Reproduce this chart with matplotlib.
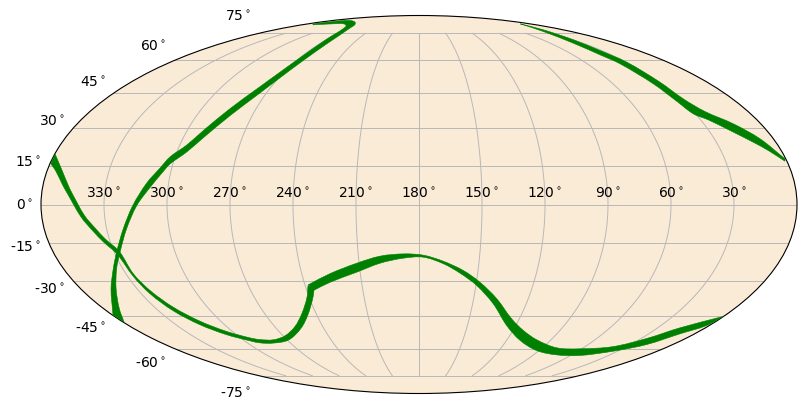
import numpy as np
import matplotlib
matplotlib.use("Agg")
import matplotlib.pyplot as plt
from matplotlib.path import Path
from matplotlib.patches import PathPatch

ra_ticks = [330, 300, 270, 240, 210, 180, 150, 120, 90, 60, 30]
dec_ticks = [-75, -60, -45, -30, -15, 0, 15, 30, 45, 60, 75]

a1_ra = [15.9,24.9,30.2,31.3,29.7,29.5,28.2,23.6,14.5,6.8,0.4]
a1_dec = [81.5,77.2,71.0,65.1,59.1,49.7,42.3,36.9,31.8,25.7,17.7]
a2_ra = [15.9,33.0,39.0,38.8,36.6,35.0,33.5,31.1,25.9,18.0,11.4,6.4,1.0]
a2_dec = [81.5,76.1,69.1,62.8,58.3,48.9,41.3,35.9,33.4,28.4,24.3,21.0,16.8]
b1_ra = [351.7,343.3,323.8,287.4,271.9,263.4,265.1,269.2,274.6,282.0,289.8,295.2,301.4,303.7,308.6,314.4,320.4,327.1,333.1,341.2,351.1,359.5]
b1_dec = [81.5,83.3,84.2,82.0,78.5,68.7,60.0,51.7,43.8,35.1,26.1,20.4,15.7,12.8,6.6,-0.4,-9.4,-18.5,-25.1,-33.3,-41.7,-47.6]
b2_ra = [342.5,319.2,300.4,283.4,270.8,269.6,272.7,277.6,284.4,291.6,296.5,302.5,305.7,310.5,316.3,322.0,328.8,334.8,343.9,359.6]
b2_dec = [80.7,81.5,81.4,79.5,71.4,62.5,54.3,46.6,38.1,29.0,23.2,18.5,14.1,8.3,-0.4,-9.4,-18.5,-25.1,-33.3,-44.4]
c1_ra = [0.1,16.0,25.9,39.8,61.3,79.4,99.7,113.4,124.6,137.3,148.1,157.5,167.9,177.9,187.7,199.3,211.2,225.6,238.2]
c1_dec = [-45.0,-50.1,-54.9,-59.0,-60.1,-59.6,-55.7,-51.3,-46.1,-37.4,-30.6,-25.8,-22.1,-19.7,-19.2,-20.1,-22.9,-27.1,-31.6]
c2_ra = [0.1,1.7,9.6,18.6,33.3,52.5,71.8,91.7,110.7,125.6,138.4,149.6,159.0,167.8,177.9,187.8,199.5,211.8,226.5,236.5]
c2_dec = [-45.0,-49.1,-52.9,-58.0,-61.3,-63.5,-63.2,-61.0,-56.0,-49.1,-39.6,-31.9,-26.9,-23.1,-20.5,-20.9,-22.9,-26.5,-30.6,-34.0]
d1_ra = [238.5,241.3,248.2,257.3,268.7,279.4,288.2,293.5,303.6,312.6,319.4,323.8,326.2,327.3,331.9,335.3,339.6,345.3,347.8,352.8,359.9]
d1_dec = [-31.9,-36.9,-43.7,-49.5,-53.8,-55.7,-55.6,-54.8,-51.8,-47.1,-41.0,-34.0,-27.1,-18.3,-13.4,-9.3,-4.2,4.1,7.3,13.2,19.7]
d2_ra = [236.0,238.0,245.0,254.5,269.1,282.1,291.1,296.2,306.4,315.2,321.5,325.3,327.1,329.0,333.3,336.8,341.3,347.6,350.4,356.0,359.6]
d2_dec = [-33.6,-36.9,-44.2,-50.4,-55.8,-57.3,-57.2,-56.2,-53.3,-48.7,-42.6,-35.3,-28.2,-19.3,-14.5,-10.3,-4.8,4.1,7.3,13.2,15.8]

bands = [(a1_ra, a1_dec, a2_ra, a2_dec), (b1_ra, b1_dec, b2_ra, b2_dec),
         (c1_ra, c1_dec, c2_ra, c2_dec), (d1_ra, d1_dec, d2_ra, d2_dec)]

def to_lon(ra):
    return np.radians(180.0 - np.asarray(ra))

fig = plt.figure(figsize=(8.06, 4.10), dpi=100)
ax = fig.add_axes([41/806, 15.5/410, 756/806, 378/410], projection="mollweide")
ax.set_facecolor("antiquewhite")
ax.grid(True, color="#b8b8b8", lw=0.7)

def curve(p):
    """Bezier segments through the read points (projected space)."""
    tang = np.zeros_like(p)
    tang[1:-1] = p[2:] - p[:-2]
    tang[0] = p[1] - p[0]
    tang[-1] = p[-1] - p[-2]
    tang /= np.maximum(np.linalg.norm(tang, axis=1, keepdims=True), 1e-12)
    verts = []
    for i in range(len(p) - 1):
        d = np.linalg.norm(p[i+1] - p[i]) / 3
        verts += [p[i] + tang[i]*d, p[i+1] - tang[i+1]*d, p[i+1]]
    return verts

for r1, d1, r2, d2 in bands:
    e1 = ax.transProjection.transform(np.column_stack([to_lon(r1), np.radians(d1)]))
    e2 = ax.transProjection.transform(np.column_stack([to_lon(r2), np.radians(d2)]))[::-1]
    verts = [e1[0]] + curve(e1) + [e2[0]] + curve(e2) + [e1[0]]
    codes = ([Path.MOVETO] + [Path.CURVE4]*(3*(len(e1)-1)) + [Path.LINETO]
             + [Path.CURVE4]*(3*(len(e2)-1)) + [Path.LINETO])
    ax.add_patch(PathPatch(Path(np.array(verts), codes), facecolor="green",
                           edgecolor="green", lw=0.4, zorder=3,
                           transform=ax.transAffine + ax.transAxes))

ax.set_xticks(to_lon(ra_ticks))
ax.set_xticklabels([f"{v}$^\\circ$" for v in ra_ticks])
ax.set_yticks(np.radians(dec_ticks))
ax.set_yticklabels([f"{v}$^\\circ$" for v in dec_ticks])

fig.savefig("out.png", dpi=100)
